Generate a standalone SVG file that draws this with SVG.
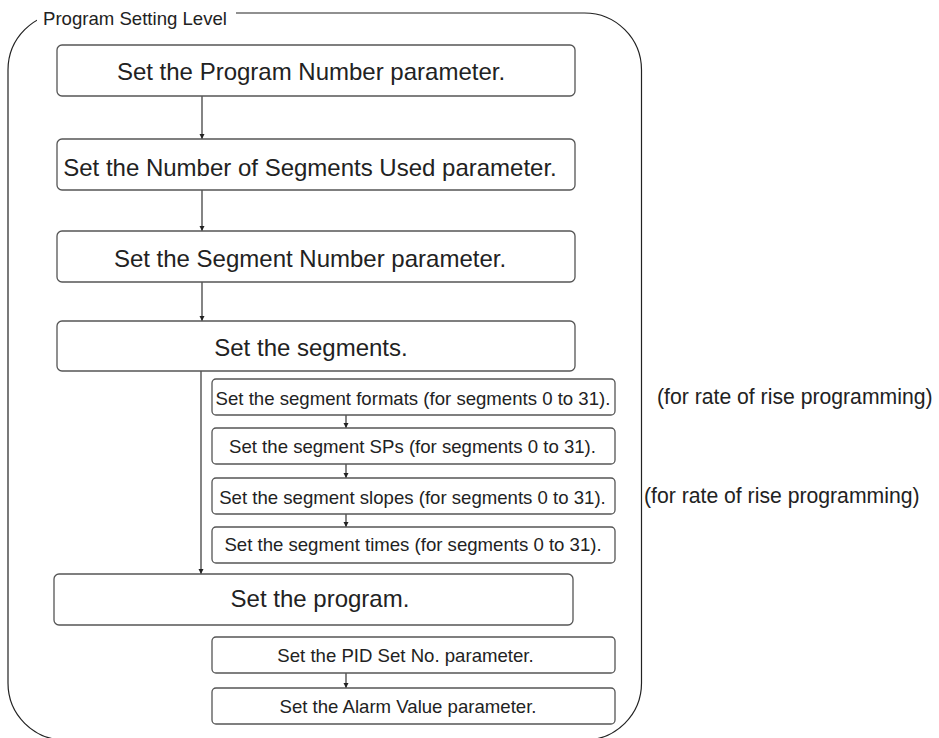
<svg xmlns="http://www.w3.org/2000/svg" width="939" height="738" viewBox="0 0 939 738">
<style>
.bx{fill:#fff;stroke:#555;stroke-width:1.3}
.t{font-family:"Liberation Sans",Arial,Helvetica,sans-serif;fill:#222}
.big{font-size:24px;text-anchor:middle}
.sm{font-size:18.6px;text-anchor:middle}
.note{font-size:21.2px}
.cn{stroke:#333;stroke-width:1.2;fill:none;marker-end:url(#ah)}
</style>
<defs>
<marker id="ah" viewBox="0 0 10 10" refX="10" refY="5" markerWidth="5" markerHeight="6" markerUnits="userSpaceOnUse" orient="auto">
<path d="M0,0 L10,5 L0,10 z" fill="#222"/>
</marker>
</defs>
<rect width="939" height="738" fill="#fff"/>
<g id="frame">
<rect x="8" y="13" width="633.5" height="727" rx="57" ry="57" fill="none" stroke="#222" stroke-width="1.2"/>
<rect x="37" y="4" width="199" height="20" fill="#fff"/>
<text class="t" x="43" y="25" font-size="18.6">Program Setting Level</text>
</g>
<g id="connectors">
<line class="cn" x1="202" y1="96" x2="202" y2="139"/>
<line class="cn" x1="202" y1="190" x2="202" y2="231"/>
<line class="cn" x1="202" y1="282" x2="202" y2="321"/>
<line class="cn" x1="201" y1="371" x2="201" y2="574"/>
<line class="cn" x1="346" y1="415" x2="346" y2="428"/>
<line class="cn" x1="346" y1="464" x2="346" y2="478"/>
<line class="cn" x1="346" y1="514" x2="346" y2="527"/>
<line class="cn" x1="346" y1="673" x2="346" y2="688"/>
</g>
<g id="n1"><rect class="bx" x="57" y="45" width="518" height="51" rx="5"/><text class="t big" x="311" y="80">Set the Program Number parameter.</text></g>
<g id="n2"><rect class="bx" x="57" y="139" width="518" height="51" rx="5"/><text class="t big" x="310" y="176">Set the Number of Segments Used parameter.</text></g>
<g id="n3"><rect class="bx" x="57" y="231" width="518" height="51" rx="5"/><text class="t big" x="310" y="267">Set the Segment Number parameter.</text></g>
<g id="n4"><rect class="bx" x="57" y="321" width="518" height="50" rx="5"/><text class="t big" x="311" y="356">Set the segments.</text></g>
<g id="s1"><rect class="bx" x="212" y="379" width="403" height="36" rx="4"/><text class="t sm" x="413" y="405">Set the segment formats (for segments 0 to 31).</text></g>
<g id="s2"><rect class="bx" x="212" y="428" width="403" height="36" rx="4"/><text class="t sm" x="412.5" y="453">Set the segment SPs (for segments 0 to 31).</text></g>
<g id="s3"><rect class="bx" x="212" y="478" width="403" height="36" rx="4"/><text class="t sm" x="412.5" y="504">Set the segment slopes (for segments 0 to 31).</text></g>
<g id="s4"><rect class="bx" x="212" y="527" width="403" height="36" rx="4"/><text class="t sm" x="413" y="551">Set the segment times (for segments 0 to 31).</text></g>
<g id="n5"><rect class="bx" x="54" y="574" width="519" height="51" rx="5"/><text class="t big" x="320" y="607">Set the program.</text></g>
<g id="p1"><rect class="bx" x="212" y="637" width="403" height="36" rx="4"/><text class="t sm" x="405.5" y="662">Set the PID Set No. parameter.</text></g>
<g id="p2"><rect class="bx" x="212" y="688" width="403" height="36" rx="4"/><text class="t sm" x="408" y="713">Set the Alarm Value parameter.</text></g>
<g id="notes">
<text class="t note" x="657" y="404">(for rate of rise programming)</text>
<text class="t note" x="644" y="503">(for rate of rise programming)</text>
</g>
</svg>
